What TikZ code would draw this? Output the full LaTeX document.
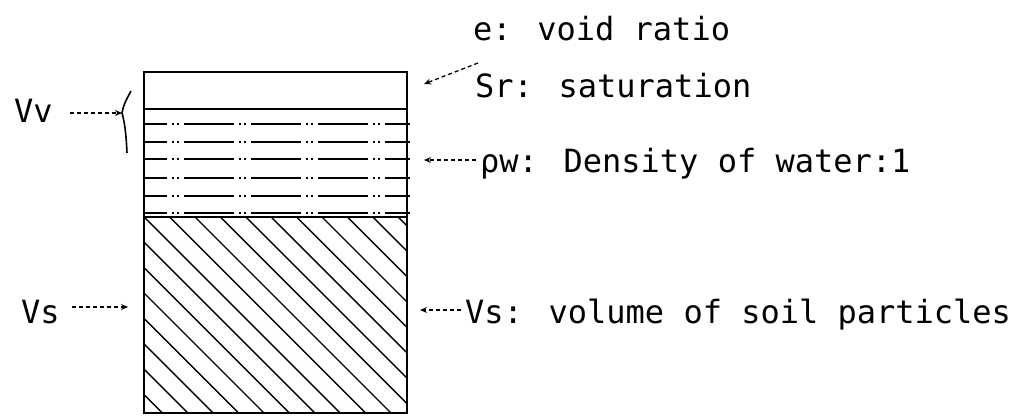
\documentclass[tikz,border=0pt]{standalone}
\usepackage{fontspec}
\setmainfont{DejaVu Sans Mono}
\usetikzlibrary{arrows.meta}
\begin{document}
\begin{tikzpicture}[x=1pt,y=-1pt,
  lbl/.style={anchor=base west,inner sep=0pt,font=\fontsize{32}{38}\selectfont},
  ptr/.style={line width=1.3pt,dash pattern=on 4pt off 3pt,-{Stealth[length=7pt,width=6pt]}},
  wline/.style={line width=2pt,dash pattern=on 50pt off 5pt on 2pt off 3pt on 2pt off 5pt,dash phase=27pt},
  boxline/.style={line width=2.2pt},
  hatch/.style={line width=1.4pt}]
\useasboundingbox (0,0) rectangle (1024,416);
% box corners
\coordinate (tl) at (144,72);
\coordinate (br) at (407,413);
% water lines
\draw[boxline] (144,109) -- (407,109);
\foreach \y in {124,142,159,178,196,213}
  \draw[wline] (144,\y) -- (410,\y);
\draw[boxline] (144,217) -- (407,217);
% hatch of soil
\begin{scope}
  \clip (144,217) rectangle (407,413);
  \foreach \c in {-530,-504.6,...,200}
    \draw[hatch] (\c+100,100) -- (\c+500,500);
\end{scope}
\draw[boxline] (tl) rectangle (br);
% brace
\draw[line width=1.6pt] (131,91) .. controls (126,100) and (123,106) .. (122,113)
   .. controls (124,120) and (126,130) .. (127,153);
\coordinate (brace) at (122,113);
% left labels
\node[lbl] (vv) at (14,122) {Vv};
\node[lbl] (vsl) at (21,323) {Vs};
\coordinate (vvs) at (70,113);
\coordinate (vss) at (72,307);
\coordinate (vse) at (128,307);
\draw[ptr] (vvs) -- (brace);
\draw[ptr] (vss) -- (vse);
% right labels
\node[lbl] (e) at (473,40) {e: void ratio};
\node[lbl] (sr) at (475,97) {Sr: saturation};
\node[lbl] (rw) at (480,172) {ρw: Density of water:1};
\node[lbl] (vs) at (465,323) {Vs: volume of soil particles};
\coordinate (srs) at (478,63);
\coordinate (sre) at (424,84);
\coordinate (rws) at (476,160);
\coordinate (rwe) at (424,160);
\coordinate (vsrs) at (461,310);
\coordinate (vsre) at (420,310);
\draw[ptr] (srs) -- (sre);
\draw[ptr] (rws) -- (rwe);
\draw[ptr] (vsrs) -- (vsre);
\end{tikzpicture}
\end{document}
